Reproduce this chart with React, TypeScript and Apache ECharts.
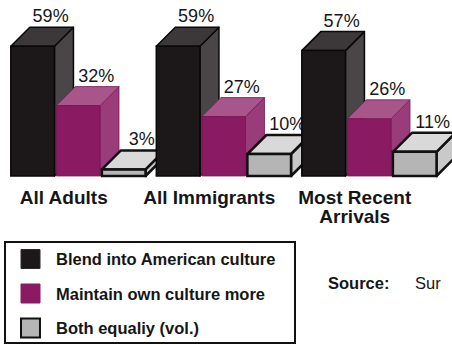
import React, { useEffect, useRef } from 'react';
import * as echarts from 'echarts';

const categories = ['All Adults', 'All Immigrants', 'Most Recent\nArrivals'];
const seriesNames = ['Blend into American culture', 'Maintain own culture more', 'Both equaliy (vol.)'];
const blendValues = [59, 59, 57];
const maintainValues = [32, 27, 26];
const bothValues = [3, 10, 11];
const sourceLabel = 'Source:';
const sourceText = 'Sur';

const FONT = '"Liberation Sans", Arial, Helvetica, sans-serif';

const palettes = [
  { front: '#1c1819', top: '#3c3839', side: '#4a4647', stroke: '#080808', lineWidth: 1.5 },
  { front: '#8a1b62', top: '#a8558c', side: '#9a3c79', stroke: '#7a1656', lineWidth: 0.8 },
  { front: '#b5b5b5', top: '#d9d9d9', side: '#c9c9c9', stroke: '#111111', lineWidth: 2.5 },
];

export default function App() {
  const ref = useRef<HTMLDivElement>(null);
  useEffect(() => {
    if (!ref.current) return;
    const chart = echarts.init(ref.current, undefined, { renderer: 'svg' });
    const allSeries = [blendValues, maintainValues, bothValues];
    const data: number[][] = [];
    categories.forEach((_, ci) => {
      allSeries.forEach((vals, si) => data.push([ci, si, vals[ci]]));
    });

    const renderItem = (params: any, api: any) => {
      const ci = api.value(0);
      const si = api.value(1);
      const v = api.value(2);
      const base = api.coord([ci, 0]);
      const top = api.coord([ci, v]);
      const band = api.size([1, 0])[0];
      const w = band * 0.3;
      const step = band * 0.313;
      const x0 = base[0] - band * 0.467 + si * step;
      const x1 = x0 + w;
      const yT = top[1];
      const yB = base[1];
      const d = 19;
      const p = palettes[si];
      return {
        type: 'group',
        children: [
          {
            type: 'polygon',
            shape: { points: [[x1, yT], [x1 + d, yT - d], [x1 + d, yB - d], [x1, yB]] },
            style: { fill: p.side, stroke: p.stroke, lineWidth: p.lineWidth, lineJoin: 'round' },
          },
          {
            type: 'polygon',
            shape: { points: [[x0, yT], [x0 + d, yT - d], [x1 + d, yT - d], [x1, yT]] },
            style: { fill: p.top, stroke: p.stroke, lineWidth: p.lineWidth, lineJoin: 'round' },
          },
          {
            type: 'rect',
            shape: { x: x0, y: yT, width: w, height: yB - yT },
            style: { fill: p.front, stroke: p.stroke, lineWidth: p.lineWidth },
          },
          {
            type: 'text',
            x: x0 + w / 2 + 18,
            y: yT - d - 2,
            style: {
              text: v + '%',
              fill: '#161616',
              font: `18px ${FONT}`,
              align: 'center',
              verticalAlign: 'bottom',
            },
          },
        ],
      };
    };

    const legendTop = 242;
    const legendChildren: any[] = [
      {
        type: 'rect',
        shape: { x: 5, y: legendTop, width: 290, height: 101 },
        style: { fill: '#fff', stroke: '#111', lineWidth: 2 },
      },
    ];
    seriesNames.forEach((name, i) => {
      const cy = 259 + i * 34.5;
      const p = palettes[i];
      legendChildren.push({
        type: 'rect',
        shape: { x: 21, y: cy - 9.5, width: 19, height: 19 },
        style: {
          fill: p.front,
          stroke: i === 1 ? p.front : i === 0 ? '#2a2a2a' : '#111',
          lineWidth: i === 2 ? 2 : 1,
        },
      });
      legendChildren.push({
        type: 'text',
        x: 56,
        y: cy,
        style: {
          text: name,
          fill: '#161616',
          font: `bold 16.5px ${FONT}`,
          verticalAlign: 'middle',
        },
      });
    });

    chart.setOption({
      animation: false,
      backgroundColor: '#ffffff',
      grid: { left: 6, right: 9.5, top: 22, bottom: 169 },
      xAxis: {
        type: 'category',
        data: categories,
        axisLine: { show: false },
        axisTick: { show: false },
        axisLabel: {
          margin: 12,
          fontSize: 19,
          fontWeight: 'bold',
          fontFamily: FONT,
          color: '#161616',
          lineHeight: 19,
          padding: [0, 30, 0, 0],
          interval: 0,
        },
      },
      yAxis: { type: 'value', min: 0, max: 70, show: false },
      series: [
        {
          type: 'custom',
          renderItem,
          data,
          clip: false,
        },
      ],
      graphic: [
        { type: 'group', children: legendChildren },
        {
          type: 'text',
          x: 328,
          y: 283,
          style: { text: sourceLabel, fill: '#161616', font: `bold 16.5px ${FONT}`, verticalAlign: 'middle' },
        },
        {
          type: 'text',
          x: 415,
          y: 283,
          style: { text: sourceText, fill: '#161616', font: `16.5px ${FONT}`, verticalAlign: 'middle' },
        },
      ],
    });
    return () => chart.dispose();
  }, []);
  return (
    <div
      ref={ref}
      style={{ position: 'fixed', left: 0, top: 0, width: 452, height: 345, background: '#fff' }}
    />
  );
}
